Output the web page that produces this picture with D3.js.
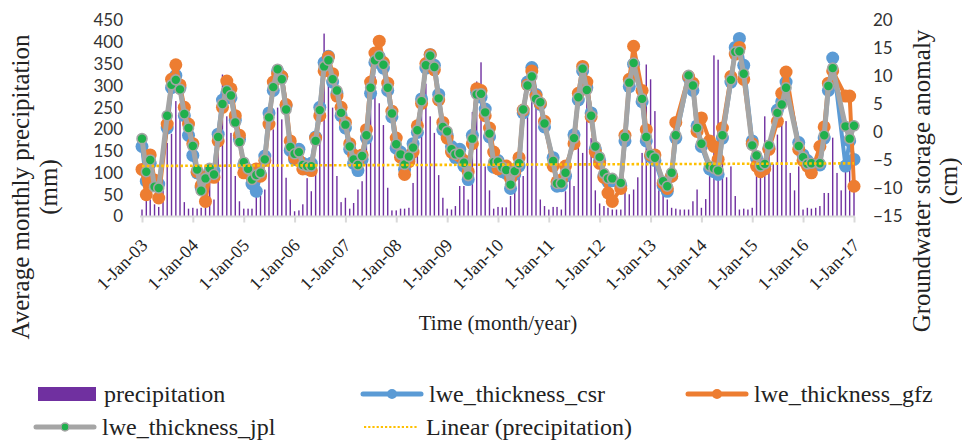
<!DOCTYPE html>
<html>
<head>
<meta charset="utf-8">
<title>Precipitation and groundwater storage anomaly</title>
<script src="https://cdn.jsdelivr.net/npm/d3@7"></script>
<style>
  body { margin: 0; background: #fff; }
</style>
</head>
<body>
<script>
// monthly series, Jan 2003 .. Jan 2017 (169 months), null = month missing
var yearTicks = ["1-Jan-03","1-Jan-04","1-Jan-05","1-Jan-06","1-Jan-07","1-Jan-08","1-Jan-09",
                 "1-Jan-10","1-Jan-11","1-Jan-12","1-Jan-13","1-Jan-14","1-Jan-15","1-Jan-16","1-Jan-17"]
var leftTicks = [0, 50, 100, 150, 200, 250, 300, 350, 400, 450]
var rightTicks = [-15, -10, -5, 0, 5, 10, 15, 20]

var precipitation = [
  16, 39, 39, 28, 22, 60, 169, 190, 265, 226, 33, 18,
  20, 18, 20, 24, 93, 39, 200, 326, 230, 192, 93, 35,
  18, 18, 18, 47, 48, 62, 131, 200, 250, 223, 89, 39,
  12, 14, 28, 88, 58, 120, 192, 420, 340, 250, 93, 33,
  43, 18, 31, 62, 81, 165, 285, 322, 260, 210, 66, 14,
  14, 18, 18, 20, 77, 170, 250, 305, 230, 192, 95, 43,
  18, 16, 24, 70, 70, 39, 240, 310, 354, 115, 60, 18,
  22, 21, 21, 47, 77, 100, 93, 230, 353, 261, 39, 24,
  16, 22, 22, 16, 58, 100, 70, 169, 146, 269, 180, 60,
  30, 24, 20, 16, 16, 16, 62, 51, 62, 90, 146, 349,
  315, 242, 60, 54, 39, 20, 18, 16, 16, 16, 35, 62,
  20, 40, 123, 370, 360, 131, 90, 115, 47, 16, 18, 16,
  20, 100, 100, 230, 150, 120, 188, 215, 219, 100, 60, 115,
  16, 20, 18, 20, 24, 54, 54, 181, 100, 60, 146, 124,
  100
]

var csr = [
  -2.5, -8.7, -5.5, -9.0, -9.2, null, 0.8, 8.0, 10.2, 8.0, 3.0, -0.5,
  -4.1, -7.2, -9.8, -8.0, -7.0, -6.8, -0.3, 5.8, 7.0, 6.2, 2.2, -1.2,
  -5.8, -7.0, -9.2, -10.5, -7.5, -4.2, 3.5, 7.5, 11.0, 10.0, 4.8, -3.2,
  -4.8, -3.0, -5.5, -6.5, -5.5, -0.8, 4.5, 12.5, 13.6, 9.0, 7.0, 3.0,
  0.8, -3.0, -5.5, -6.8, -4.8, -1.0, 7.0, 12.5, 13.5, 11.5, 7.5, 2.8,
  -2.8, -3.5, -6.6, -4.8, -2.0, 0.0, 6.0, 11.5, 13.9, 12.0, 6.8, 0.5,
  -0.5, -2.5, -4.5, -3.0, -6.0, -8.4, -0.5, 7.2, 6.3, 4.2, -0.8, -6.2,
  -5.0, -7.0, -7.3, -10.0, -7.5, -6.0, 3.5, 9.0, 11.6, 6.8, 5.0, 1.0,
  null, -4.5, -9.6, -9.5, -7.8, null, -0.4, 5.8, 11.0, 8.0, 3.5, -3.0,
  -5.0, -7.8, -8.8, -8.6, null, -9.5, -1.5, 8.2, 12.2, null, 5.5, -1.5,
  -4.3, -5.0, null, -9.5, -10.5, -7.8, -1.0, null, null, 9.8, 7.5, 1.2,
  -2.5, null, -6.5, -7.0, -7.5, -1.0, null, 9.0, 15.2, 16.8, 12.0, null,
  -1.5, -4.6, -5.8, -6.0, -2.8, null, 4.0, 5.5, 9.0, null, null, -1.8,
  -4.0, -5.0, -6.0, null, -5.8, -1.0, 7.5, 13.3, null, null, -6.0, -1.5,
  -4.8
]

var gfz = [
  -6.6, -11.1, -4.0, -8.5, -11.7, null, 1.5, 9.5, 12.1, 8.5, 4.5, 1.5,
  -2.0, -7.0, -9.5, -12.3, -7.5, -8.0, -1.5, 4.5, 9.2, 7.8, 3.0, -0.5,
  -7.2, -7.0, -8.0, -6.5, -7.8, -5.0, 1.5, 9.0, 10.5, 10.0, 5.0, -1.5,
  -4.5, -5.0, -6.5, -6.2, -6.8, -1.0, 3.0, 11.0, 13.5, 10.5, 6.5, 4.5,
  1.8, -2.0, -4.0, -5.0, -4.0, 0.5, 9.0, 14.2, 16.3, 12.5, 8.8, 3.8,
  -1.0, -4.4, -7.5, -5.2, -3.5, 1.2, 5.2, 12.3, 13.9, 11.2, 5.8, 1.8,
  -1.0, -3.5, -3.8, -4.2, -5.0, -7.0, -2.0, 7.8, 7.5, 3.0, 0.8, -3.5,
  -6.5, -6.0, -6.0, -8.2, -7.0, -4.5, 4.0, 8.5, 11.0, 6.5, 5.2, 2.0,
  null, -6.0, -8.8, -8.5, -6.0, null, -2.0, 7.0, 11.8, 9.0, 2.8, -3.5,
  -5.5, -8.0, -10.8, -12.3, null, -10.0, -0.5, 9.5, 15.4, null, 7.5, 0.5,
  -4.0, -4.0, null, -9.0, -10.0, -7.8, 1.8, null, null, 10.0, 8.8, 0.2,
  2.6, null, -1.5, -2.5, -4.8, 0.8, null, 10.0, 14.0, 15.2, 9.5, null,
  -2.0, -6.0, -7.0, -6.5, -3.0, null, 2.0, 7.0, 10.8, null, null, -3.0,
  -5.0, -6.0, -7.2, null, -2.5, 1.0, 8.8, 11.0, null, null, 6.5, 6.5,
  -9.6
]

var jpl = [
  -1.1, -7.0, -4.9, -9.7, -9.9, null, 3.0, 8.5, 9.4, 7.7, 3.3, 0.8,
  -2.4, -6.6, -10.4, -8.2, -6.4, -7.5, -0.8, 5.1, 7.5, 6.6, 1.8, -1.7,
  -5.3, -6.5, -8.4, -7.6, -7.2, -4.8, 2.7, 8.1, 11.3, 9.5, 4.1, -2.6,
  -3.8, -3.5, -5.8, -6.0, -6.0, -1.5, 4.0, 11.8, 12.9, 9.5, 7.5, 3.5,
  1.4, -2.5, -4.8, -5.8, -4.2, -0.5, 8.0, 12.9, 13.7, 12.1, 8.0, 3.4,
  -2.1, -3.9, -5.7, -4.3, -2.7, 0.4, 5.6, 12.0, 13.7, 11.7, 6.1, 1.0,
  0.2, -3.0, -3.9, -3.7, -5.4, -7.7, -1.1, 6.8, 6.9, 3.6, -0.2, -5.3,
  -5.2, -6.2, -6.7, -9.3, -6.9, -5.5, 4.1, 8.4, 10.0, 6.0, 5.4, 1.6,
  null, -5.1, -9.1, -9.1, -7.2, null, -1.0, 6.3, 11.4, 7.6, 3.0, -2.5,
  -4.4, -7.3, -8.2, -8.2, null, -9.0, -0.8, 8.9, 12.4, null, 6.0, -0.8,
  -3.9, -4.5, null, -8.7, -9.6, -7.2, -0.5, null, null, 10.2, 8.4, 0.8,
  -2.0, null, -6.0, -6.4, -6.8, -0.5, null, 9.4, 14.4, 14.5, 10.5, null,
  -2.3, -4.1, -6.0, -5.6, -2.3, null, 3.5, 5.0, 8.0, null, null, -2.4,
  -4.4, -5.6, -5.5, null, -5.5, -0.5, 8.3, 11.5, null, null, 1.1, -1.1,
  1.2
]

// Linear (precipitation) trend, value at first and last month (mm)
var trendEnds = [116, 122]

var legendNames = ["precipitation", "lwe_thickness_csr", "lwe_thickness_gfz",
                   "lwe_thickness_jpl", "Linear (precipitation)"]

var width = 962
var height = 441
var serif = "'Liberation Serif', 'Times New Roman', serif"
var sans = "Lato, 'Open Sans', sans-serif"

var months = precipitation.map(function(d, i) { return new Date(2003, i, 1) })
var yearDates = yearTicks.map(function(d, i) { return new Date(2003 + i, 0, 1) })

var svg = d3.select("body").append("svg")
  .attr("width", width)
  .attr("height", height)
  .style("background", "#fff")

var x = d3.scaleTime().domain([yearDates[0], yearDates[yearDates.length - 1]]).range([142, 854])
var yLeft = d3.scaleLinear().domain([0, 450]).range([216.5, 20.5])
var yRight = d3.scaleLinear().domain([-15, 20]).range([216.5, 20.5])

// precipitation bars
svg.append("g").selectAll("rect")
  .data(precipitation)
  .enter()
  .append("rect")
    .attr("x", function(d, i) { return x(months[i]) - 0.7 })
    .attr("width", 1.4)
    .attr("y", function(d) { return yLeft(d) })
    .attr("height", function(d) { return yLeft(0) - yLeft(d) })
    .attr("fill", "#7030a0")

// x axis
var xAxis = d3.axisBottom(x)
  .tickValues(yearDates)
  .tickFormat(function(d, i) { return yearTicks[i] })
  .tickSize(6)
  .tickSizeOuter(0)

var gx = svg.append("g").attr("transform", "translate(0,216.5)").call(xAxis)
gx.select(".domain").attr("stroke", "#d9d9d9").attr("stroke-width", 2)
  .attr("d", "M140," + 0 + "H855")
gx.selectAll(".tick line").attr("stroke", "#d9d9d9").attr("stroke-width", 2)
gx.selectAll(".tick text")
  .attr("x", 0).attr("y", 0).attr("dy", 0)
  .attr("text-anchor", "end")
  .attr("transform", "translate(6,30) rotate(-45)")
  .style("font-family", serif)
  .style("font-size", "18px")
  .attr("fill", "#222")

// left axis
var gl = svg.append("g").attr("transform", "translate(126,0)")
  .call(d3.axisLeft(yLeft).tickValues(leftTicks).tickSize(0).tickPadding(3))
gl.select(".domain").remove()
gl.selectAll("text").style("font-family", sans).style("font-size", "17px").attr("fill", "#333")

// right axis
var gr = svg.append("g").attr("transform", "translate(873,0)")
  .call(d3.axisRight(yRight).tickValues(rightTicks).tickSize(0).tickPadding(0))
gr.select(".domain").remove()
gr.selectAll("text").style("font-family", sans).style("font-size", "17px").attr("fill", "#333")

// GRACE series
function points(arr) {
  return arr.map(function(v, i) { return {date: months[i], v: v} })
            .filter(function(d) { return d.v !== null })
}

var line = d3.line()
  .x(function(d) { return x(d.date) })
  .y(function(d) { return yRight(d.v) })

var series = [
  {data: csr, color: "#5b9bd5", width: 4, r: 6.5, fill: "#5b9bd5", stroke: "none"},
  {data: gfz, color: "#ed7d31", width: 4, r: 6.5, fill: "#ed7d31", stroke: "none"},
  {data: jpl, color: "#a5a5a5", width: 5, r: 5, fill: "#1fb04c", stroke: "#a5a5a5"}
]

series.forEach(function(s) {
  var pts = points(s.data)
  svg.append("path")
    .datum(pts)
    .attr("d", line)
    .attr("fill", "none")
    .attr("stroke", s.color)
    .attr("stroke-width", s.width)
    .attr("stroke-linejoin", "round")
  svg.append("g").selectAll("circle")
    .data(pts)
    .enter()
    .append("circle")
      .attr("cx", function(d) { return x(d.date) })
      .attr("cy", function(d) { return yRight(d.v) })
      .attr("r", s.r)
      .attr("fill", s.fill)
      .attr("stroke", s.stroke)
      .attr("stroke-width", 1.6)
})

// trend line
svg.append("line")
  .attr("x1", x(months[0])).attr("x2", x(months[months.length - 1]))
  .attr("y1", yLeft(trendEnds[0])).attr("y2", yLeft(trendEnds[1]))
  .attr("stroke", "#ffc000")
  .attr("stroke-width", 2.6)
  .attr("stroke-dasharray", "2.6,2.2")

// axis titles
function vtitle(lines, xs, cy) {
  lines.forEach(function(t, i) {
    svg.append("text")
      .attr("transform", "translate(" + xs[i] + "," + cy + ") rotate(-90)")
      .attr("text-anchor", "middle")
      .style("font-family", serif)
      .style("font-size", "25px")
      .attr("fill", "#222")
      .text(t)
  })
}
vtitle(["Average monthly precipitation", "(mm)"], [29, 57], 187)
vtitle(["Groundwater storage anomaly", "(cm)"], [930, 957], 181)

svg.append("text")
  .attr("x", 498).attr("y", 330)
  .attr("text-anchor", "middle")
  .style("font-family", serif)
  .style("font-size", "21px")
  .attr("fill", "#222")
  .text("Time (month/year)")

// legend
var legendPos = [[38, 394], [363, 394], [688, 394], [36, 427], [364, 427]]
var lg = svg.append("g")
legendNames.forEach(function(name, i) {
  var px = legendPos[i][0], py = legendPos[i][1]
  if (i === 0) {
    lg.append("rect").attr("x", px).attr("y", py - 7).attr("width", 58).attr("height", 14).attr("fill", "#7030a0")
  } else if (i === 4) {
    lg.append("line").attr("x1", px).attr("x2", px + 54).attr("y1", py).attr("y2", py)
      .attr("stroke", "#ffc000").attr("stroke-width", 2.2).attr("stroke-dasharray", "2.2,2")
  } else {
    var s = series[i - 1]
    lg.append("line").attr("x1", px).attr("x2", px + 58).attr("y1", py).attr("y2", py)
      .attr("stroke", s.color).attr("stroke-width", 5).attr("stroke-linecap", "round")
    lg.append("circle").attr("cx", px + 29).attr("cy", py).attr("r", i === 3 ? 4 : 5)
      .attr("fill", s.fill).attr("stroke", s.stroke).attr("stroke-width", 1.5)
  }
  lg.append("text")
    .attr("x", px + (i === 4 ? 62 : 66)).attr("y", py + 8)
    .style("font-family", serif)
    .style("font-size", "24px")
    .attr("fill", "#222")
    .text(name)
})
</script>
</body>
</html>
